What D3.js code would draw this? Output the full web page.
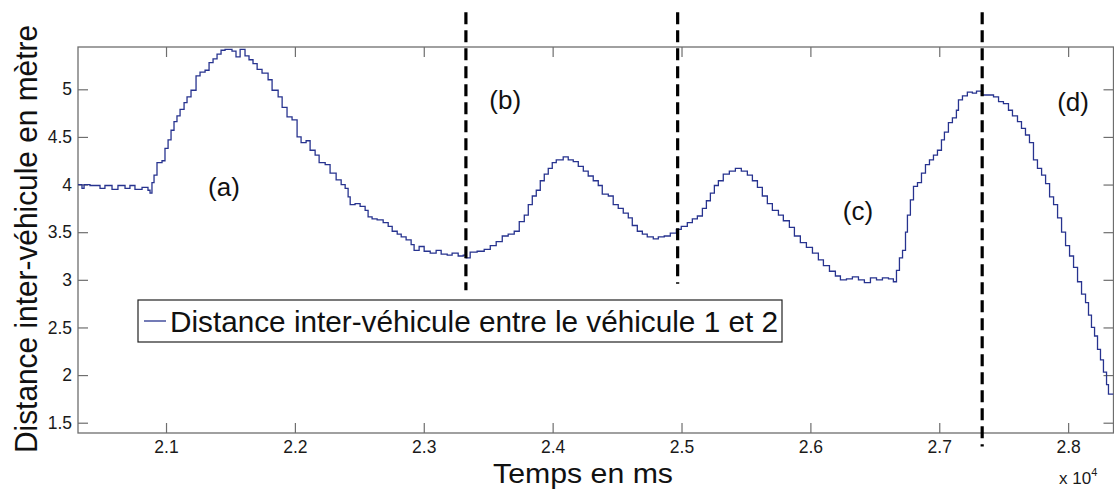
<!DOCTYPE html>
<html>
<head>
<meta charset="utf-8">
<script src="https://cdn.jsdelivr.net/npm/d3@7"></script>
<style>
  html, body { margin: 0; padding: 0; background: #ffffff; }
  svg { display: block; font-family: Arial, "Liberation Sans", sans-serif; }
</style>
</head>
<body>
<svg id="chart" width="1114" height="489"></svg>
<script>
// ---- data (time in ms, distance in metres) ----
const timeMs = [
  20317,20348,20364,20410,20488,20526,20581,20627,20682,20720,20759,20814,20860,20876,20891,20907,20930,20969,20992,21016,
  21039,21062,21085,21109,21140,21163,21194,21233,21264,21303,21334,21365,21396,21427,21458,21512,21543,21575,21613,21644,
  21675,21707,21745,21792,21823,21870,21901,21939,21978,22017,22048,22087,22118,22157,22188,22235,22273,22320,22359,22390,
  22413,22429,22467,22506,22545,22568,22599,22638,22685,22724,22755,22794,22825,22863,22902,22925,22964,23003,23050,23096,
  23135,23182,23220,23267,23306,23329,23360,23414,23469,23516,23562,23609,23655,23702,23741,23780,23811,23842,23873,23904,
  23935,23966,23997,24028,24082,24121,24160,24199,24238,24276,24315,24354,24385,24432,24470,24509,24548,24587,24618,24657,
  24696,24734,24781,24820,24866,24913,24960,24998,25045,25084,25123,25162,25193,25224,25255,25286,25324,25371,25418,25464,
  25511,25550,25589,25627,25666,25705,25752,25790,25837,25876,25922,25969,26016,26062,26101,26148,26194,26233,26280,26326,
  26373,26419,26466,26513,26559,26606,26644,26668,26691,26715,26738,26753,26776,26800,26831,26862,26893,26924,26955,26986,
  27017,27040,27071,27102,27133,27149,27180,27218,27257,27289,27328,27374,27421,27460,27498,27537,27568,27607,27638,27669,
  27700,27731,27762,27794,27825,27856,27887,27918,27949,27980,28011,28042,28073,28104,28135,28158,28181,28205,28228,28251,
  28274,28298,28313,28352
];
const distanceM = [
  4.00,3.96,4.00,3.99,3.96,3.99,3.95,3.99,3.96,3.99,3.95,3.97,3.94,3.91,4.02,4.10,4.23,4.25,4.38,4.47,
  4.57,4.66,4.72,4.79,4.86,4.92,4.99,5.14,5.18,5.20,5.28,5.32,5.37,5.41,5.42,5.40,5.34,5.42,5.35,5.31,
  5.27,5.21,5.17,5.10,4.99,4.92,4.81,4.71,4.68,4.50,4.44,4.46,4.36,4.31,4.23,4.21,4.12,4.05,4.00,3.96,
  3.87,3.79,3.80,3.77,3.73,3.66,3.64,3.63,3.60,3.56,3.51,3.48,3.45,3.42,3.37,3.31,3.35,3.30,3.28,3.31,
  3.27,3.26,3.28,3.25,3.26,3.23,3.29,3.30,3.32,3.36,3.40,3.46,3.48,3.51,3.61,3.68,3.79,3.88,3.94,4.04,
  4.11,4.17,4.23,4.26,4.29,4.26,4.24,4.19,4.14,4.09,4.04,3.99,3.90,3.88,3.79,3.75,3.70,3.65,3.57,3.51,
  3.48,3.45,3.43,3.45,3.46,3.49,3.53,3.56,3.60,3.64,3.67,3.75,3.83,3.91,3.99,4.04,4.11,4.14,4.17,4.14,
  4.10,4.04,3.97,3.88,3.80,3.73,3.68,3.62,3.55,3.46,3.39,3.34,3.28,3.21,3.15,3.09,3.04,3.00,3.01,3.03,
  3.00,2.97,3.02,3.00,3.02,3.01,2.98,3.10,3.23,3.31,3.50,3.68,3.84,3.98,4.02,4.12,4.21,4.26,4.31,4.36,
  4.47,4.55,4.65,4.70,4.78,4.89,4.93,4.97,4.96,4.98,4.94,4.94,4.92,4.87,4.85,4.78,4.72,4.66,4.59,4.52,
  4.44,4.26,4.17,4.10,4.01,3.87,3.79,3.65,3.50,3.36,3.25,3.13,2.98,2.85,2.76,2.63,2.50,2.41,2.27,2.16,
  2.03,1.90,1.80,1.80
];
const xTicks = [21000,22000,23000,24000,25000,26000,27000,28000];
const xTickLabels = ["2.1","2.2","2.3","2.4","2.5","2.6","2.7","2.8"];
const yTicks = [1.5,2,2.5,3,3.5,4,4.5,5];
const yTickLabels = ["1.5","2","2.5","3","3.5","4","4.5","5"];
const phaseLabels = ["(a)","(b)","(c)","(d)"];
const phaseTimes = [21450, 23632, 26369, 28038];
const phaseValues = [3.88, 4.79, 3.63, 4.77];
const dividerTimes = [23327, 24970, 27333];
const dividerTop = [5.81, 5.81, 5.81];
const dividerBottom = [2.89, 2.96, 1.25];
const seriesName = "Distance inter-véhicule entre le véhicule 1 et 2";
const xTitle = "Temps en ms";
const yTitle = "Distance inter-véhicule en mètre";

// ---- layout ----
const svg = d3.select("#chart");
const L = 78, R = 1113.5, T = 47, B = 433;
const x = d3.scaleLinear().domain([20317, 28352]).range([L, R]);
const y = d3.scaleLinear().domain([1.392, 5.444]).range([B, T]);
const axisColor = "#6e6e6e";
const lineColor = "#27338f";

svg.append("rect").attr("width", 1114).attr("height", 489).attr("fill", "#fff");

svg.append("defs").append("clipPath").attr("id", "clip")
  .append("rect").attr("x", L).attr("y", T).attr("width", R - L).attr("height", B - T);

// axes
const styleAxis = g => {
  g.select(".domain").remove();
  g.selectAll(".tick line").attr("stroke", axisColor).attr("stroke-width", 1.2);
  g.selectAll(".tick text").attr("fill", "#1a1a1a").style("font-size", "17.5px")
    .style("font-family", "Arial, 'Liberation Sans', sans-serif");
};
svg.append("g").attr("transform", `translate(0,${B})`)
  .call(d3.axisBottom(x).tickValues(xTicks).tickFormat((d, i) => xTickLabels[i])
    .tickSizeInner(-10).tickSizeOuter(0).tickPadding(8))
  .call(styleAxis);
svg.append("g").attr("transform", `translate(0,${T})`)
  .call(d3.axisTop(x).tickValues(xTicks).tickFormat("")
    .tickSizeInner(-10).tickSizeOuter(0))
  .call(styleAxis);
svg.append("g").attr("transform", `translate(${L},0)`)
  .call(d3.axisLeft(y).tickValues(yTicks).tickFormat((d, i) => yTickLabels[i])
    .tickSizeInner(-10).tickSizeOuter(0).tickPadding(6))
  .call(styleAxis);
svg.append("g").attr("transform", `translate(${R},0)`)
  .call(d3.axisRight(y).tickValues(yTicks).tickFormat("")
    .tickSizeInner(-10).tickSizeOuter(0))
  .call(styleAxis);

svg.append("rect").attr("x", L).attr("y", T).attr("width", R - L).attr("height", B - T)
  .attr("fill", "none").attr("stroke", axisColor).attr("stroke-width", 1.3);

// series
const data = timeMs.map((t, i) => ({ t, v: distanceM[i] }));
svg.append("path").datum(data)
  .attr("clip-path", "url(#clip)")
  .attr("fill", "none").attr("stroke", lineColor).attr("stroke-width", 1.3)
  .attr("d", d3.line().x(d => x(d.t)).y(d => y(d.v)).curve(d3.curveStepAfter));

// dashed dividers
svg.selectAll(".divider").data(dividerTimes).join("line")
  .attr("class", "divider")
  .attr("x1", d => x(d)).attr("x2", d => x(d))
  .attr("y1", (d, i) => y(dividerTop[i])).attr("y2", (d, i) => y(dividerBottom[i]))
  .attr("stroke", "#000").attr("stroke-width", 3.2).attr("stroke-dasharray", "12,6");

// phase labels
svg.selectAll(".phase").data(phaseLabels).join("text")
  .attr("class", "phase")
  .attr("x", (d, i) => x(phaseTimes[i])).attr("y", (d, i) => y(phaseValues[i]))
  .attr("text-anchor", "middle").style("font-size", "26px").attr("fill", "#111")
  .text(d => d);

// legend
const lg = svg.append("g");
lg.append("rect").attr("x", 138).attr("y", 300).attr("width", 644).attr("height", 42)
  .attr("fill", "#fff").attr("stroke", "#222").attr("stroke-width", 1.2);
lg.append("line").attr("x1", 144).attr("x2", 166).attr("y1", 321).attr("y2", 321)
  .attr("stroke", lineColor).attr("stroke-width", 1.3);
lg.append("text").attr("x", 170).attr("y", 332).style("font-size", "30px").attr("fill", "#111")
  .attr("textLength", 608).attr("lengthAdjust", "spacingAndGlyphs").text(seriesName);

// titles
svg.append("text").attr("x", 493).attr("y", 483).style("font-size", "28px").attr("fill", "#111")
  .attr("textLength", 180).attr("lengthAdjust", "spacingAndGlyphs").text(xTitle);
svg.append("text").attr("transform", "translate(37,239) rotate(-90)")
  .attr("text-anchor", "middle").style("font-size", "31px").attr("fill", "#111")
  .attr("textLength", 428).attr("lengthAdjust", "spacingAndGlyphs").text(yTitle);

// exponent
const ex = svg.append("text").attr("x", 1059).attr("y", 484).style("font-size", "17px").attr("fill", "#1a1a1a");
ex.append("tspan").text("x 10");
ex.append("tspan").attr("dy", -8).style("font-size", "11px").text("4");
</script>
</body>
</html>
